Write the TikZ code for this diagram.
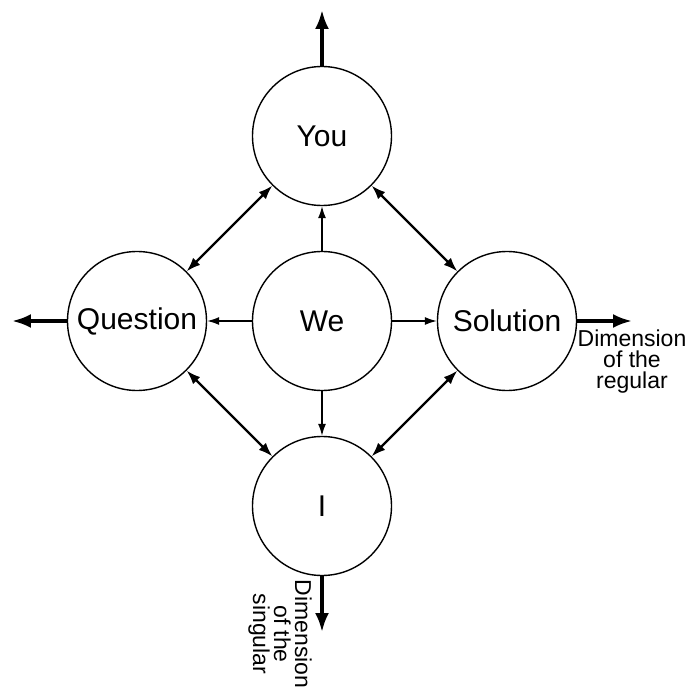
\documentclass[tikz,border=0pt]{standalone}
\usepackage{fontspec}
\setmainfont{Liberation Sans}
\usepackage{tikz}
\usetikzlibrary{arrows.meta}
\tikzstyle{pole}=[circle, draw=black, fill=white, line width=1.4pt, minimum size=139pt, inner sep=0pt, font=\fontsize{30}{32}\selectfont]
\tikzstyle{link_in}=[line width=1.3pt, -{Latex[length=12pt,width=8pt]}]
\tikzstyle{link_pair}=[line width=2.2pt, {Latex[length=14pt,width=10pt]}-{Latex[length=14pt,width=10pt]}]
\tikzstyle{link_out}=[line width=3.4pt, -{Latex[length=19pt,width=14pt]}]
\tikzstyle{dim_label}=[align=center, inner sep=0pt, font=\fontsize{23}{21}\selectfont]

\begin{document}
\begin{tikzpicture}[x=1pt,y=1pt]
\useasboundingbox (-322,-369) rectangle (370,321);
\node[pole] (we) at (0,0){We};
\node[pole] (you) at (0,185){You};
\node[pole] (i) at (0,-185){I};
\node[pole] (question) at (-185,0){Question};
\node[pole] (solution) at (185,0){Solution};
\draw[link_in](we) -- (you);
\draw[link_in](we) -- (i);
\draw[link_in](we) -- (question);
\draw[link_in](we) -- (solution);
\draw[link_pair](question) -- (you);
\draw[link_pair](you) -- (solution);
\draw[link_pair](solution) -- (i);
\draw[link_pair](i) -- (question);
\coordinate (you_end) at (0,311);
\coordinate (i_end) at (0,-311);
\coordinate (question_end) at (-310,0);
\coordinate (solution_end) at (310,0);
\draw[link_out](you) -- (you_end);
\draw[link_out](i) -- (i_end);
\draw[link_out](question) -- (question_end);
\draw[link_out](solution) -- (solution_end);
\node[dim_label] (regular) at (310,-41){Dimension\\of the\\regular};
\node[dim_label, rotate=-90] (singular) at (-42,-313){Dimension\\of the\\singular};
\end{tikzpicture}
\end{document}
